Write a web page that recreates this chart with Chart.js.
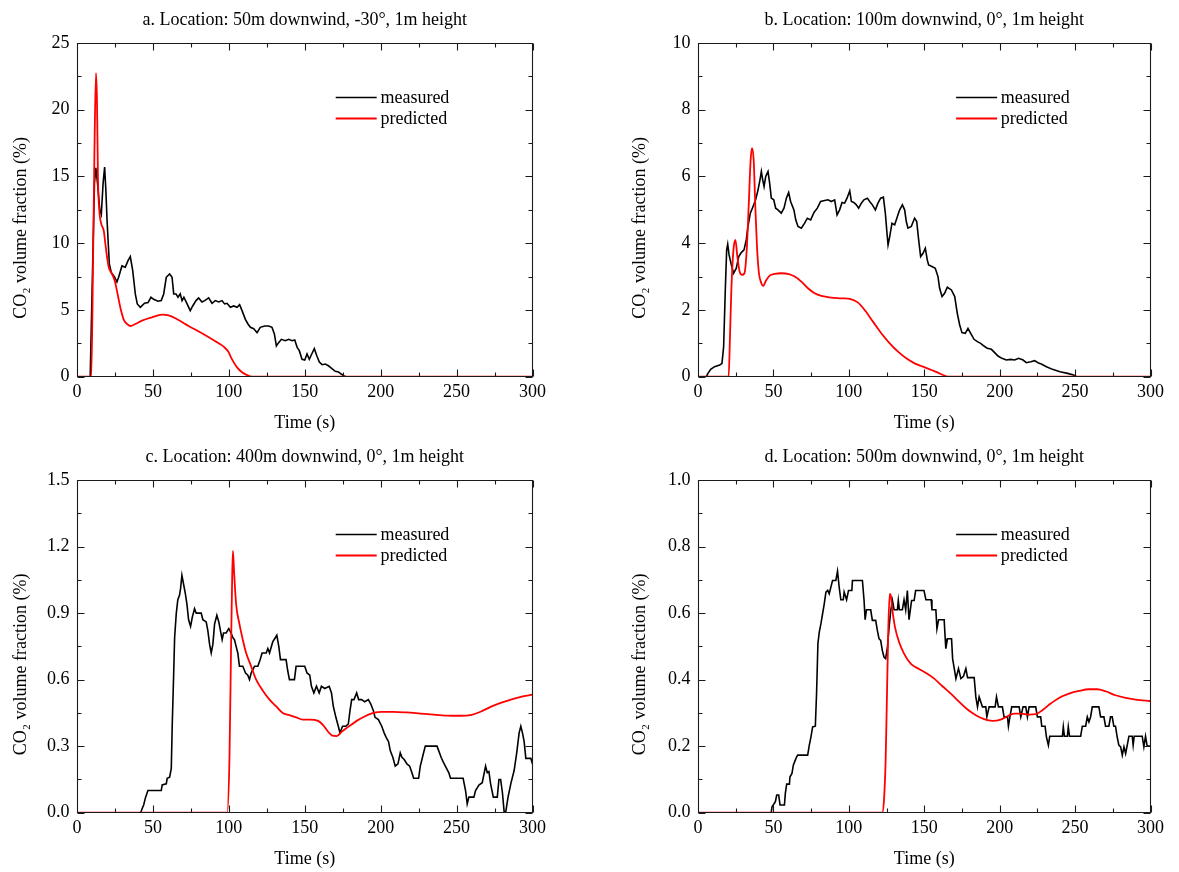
<!DOCTYPE html>
<html>
<head>
<meta charset="utf-8">
<script src="https://cdn.jsdelivr.net/npm/chart.js@4.4.1/dist/chart.umd.min.js"></script>
<style>
html,body{margin:0;padding:0;background:#fff;overflow:hidden;width:1179px;height:872px;}
canvas{position:absolute;}
</style>
</head>
<body>
<canvas id="cA" width="590" height="436" style="left:0px;top:0px;width:590px;height:436px"></canvas>
<canvas id="cB" width="560" height="436" style="left:619px;top:0px;width:560px;height:436px"></canvas>
<canvas id="cC" width="590" height="435" style="left:0px;top:437px;width:590px;height:435px"></canvas>
<canvas id="cD" width="560" height="435" style="left:619px;top:437px;width:560px;height:435px"></canvas>
<script>
// ---------------- data (time s, CO2 volume fraction %) ----------------
const titles = [
  'a. Location: 50m downwind, -30°, 1m height',
  'b. Location: 100m downwind, 0°, 1m height',
  'c. Location: 400m downwind, 0°, 1m height',
  'd. Location: 500m downwind, 0°, 1m height'
];
const seriesNames = ['measured', 'predicted'];
const xTitle = 'Time (s)';
const yTitle = 'CO₂ volume fraction (%)';
const xTicks = [0, 50, 100, 150, 200, 250, 300];
const yTicksA = [0, 5, 10, 15, 20, 25];
const yTicksB = [0, 2, 4, 6, 8, 10];
const yTicksC = [0, 0.3, 0.6, 0.9, 1.2, 1.5];
const yTicksD = [0, 0.2, 0.4, 0.6, 0.8, 1.0];
const yLabelsC = ['0.0', '0.3', '0.6', '0.9', '1.2', '1.5'];
const yLabelsD = ['0.0', '0.2', '0.4', '0.6', '0.8', '1.0'];

const measuredA = [[0,0],[8.7,0],[11.5,14.5],[12.4,15.65],[13.5,14.5],[15,12.5],[16,12.15],[17.2,14.5],[18.2,15.7],[19,14],[19.8,11.7],[21.3,8.45],[22.6,7.8],[24.8,7.45],[26.3,7.1],[27.4,7.45],[29.6,8.3],[31.8,8.2],[33.6,8.7],[35.1,9.0],[36.7,7.95],[38.4,6.2],[39.7,5.45],[41.7,5.2],[44.5,5.5],[46.8,5.55],[48.7,5.95],[50.5,5.8],[53.3,5.65],[55.5,5.7],[57.1,6.2],[58.8,7.45],[61,7.7],[62.6,7.45],[63.7,6.2],[65.2,6.2],[66.5,5.95],[68,6.2],[69.2,5.7],[70.4,5.95],[72.5,5.45],[74.6,4.95],[76.2,5.3],[78.4,5.7],[80.1,5.9],[82.3,5.6],[84.1,5.7],[86.7,5.9],[88.9,5.5],[91.1,5.7],[93.3,5.6],[95.5,5.7],[97.2,5.45],[98.8,5.5],[101,5.2],[103.2,5.3],[105.4,5.2],[107.1,5.4],[108.7,4.95],[110.9,4.3],[112.6,3.95],[114.2,3.7],[116.4,3.6],[118.6,3.3],[120.7,3.7],[123.6,3.8],[126.2,3.8],[128.4,3.7],[130,3.2],[131.3,2.3],[132.8,2.55],[134.6,2.8],[137.2,2.7],[139.4,2.8],[141.6,2.7],[143.4,2.75],[145,2.2],[146.4,1.95],[148.2,1.3],[150,1.25],[151.5,1.7],[153,1.3],[154.6,1.7],[156.3,2.1],[158,1.55],[159.6,1.1],[161.4,0.9],[163.6,0.95],[165.8,0.8],[167.5,0.65],[170.1,0.4],[172.3,0.35],[174,0.2],[176,0.05],[177,0],[300,0]];
const predictedA = [[0,0],[9.4,0],[10.5,8],[11.5,17],[12.5,22.75],[13.1,21],[13.4,18.7],[13.8,14.95],[14.7,12.45],[16,11.45],[17.6,10.95],[18.7,9.95],[19.8,8.95],[20.9,8.2],[23,7.7],[24.8,7.2],[26.3,6.45],[28.5,5.2],[30.7,4.3],[32.9,3.95],[35.1,3.8],[38.4,3.95],[42.8,4.2],[49.4,4.45],[56,4.65],[60.4,4.6],[65.9,4.3],[73.5,3.8],[82.3,3.25],[91.1,2.65],[96.6,2.25],[99.5,1.9],[102.1,1.3],[105.4,0.7],[108.7,0.33],[112,0.12],[115.3,0],[300,0]];

const measuredB = [[0,0],[5.5,0],[6.6,0.1],[8.4,0.22],[11,0.3],[14.4,0.35],[15.9,0.4],[17,0.9],[18.1,2.6],[19,3.8],[19.7,3.97],[20.6,3.65],[22.1,3.35],[23.6,3.1],[25.4,3.25],[27,3.6],[28.7,3.72],[30.5,3.8],[32,4.1],[33.1,4.5],[34.7,4.9],[36.5,5.1],[38.2,5.3],[39.8,5.6],[41.1,5.9],[42,6.15],[42.9,5.9],[43.8,5.7],[44.9,6.0],[46.4,6.15],[47.5,5.8],[48.6,5.35],[50.2,5.3],[51.5,5.05],[53,5.0],[55.2,4.9],[57,5.05],[58.6,5.35],[60.1,5.52],[61.4,5.25],[63.6,5.0],[64.8,4.7],[66.3,4.5],[68.5,4.45],[70.7,4.6],[72.5,4.75],[74.7,4.7],[76.9,4.92],[79.1,5.05],[81.3,5.25],[84,5.28],[86.2,5.3],[88.4,5.25],[90.6,5.3],[92.2,4.85],[93.9,5.0],[95.5,5.22],[97.2,5.2],[98.8,5.35],[100.6,5.57],[101.7,5.25],[103.3,5.22],[105,5.15],[106.5,5.05],[108.3,5.2],[110,5.3],[112.3,5.35],[113.8,5.25],[115.6,5.15],[117.6,5.0],[119.3,5.2],[121.1,5.35],[122.9,5.38],[124.2,4.9],[125.3,4.3],[126,3.95],[127.1,4.2],[128.6,4.6],[130.4,4.55],[132.2,4.8],[133.7,5.0],[135.5,5.15],[137,5.0],[138.1,4.65],[139.2,4.45],[141.4,4.5],[143.6,4.75],[145,4.65],[146.3,4.1],[147.6,3.6],[149.2,3.7],[150.7,3.85],[152,3.5],[152.9,3.35],[155.1,3.3],[157.3,3.25],[159.1,3.0],[160.2,2.65],[161.8,2.4],[163.5,2.5],[165.3,2.68],[168,2.6],[170.2,2.4],[171.9,1.9],[173.5,1.55],[175,1.32],[177.2,1.3],[179,1.45],[180.8,1.3],[183,1.12],[185.2,1.05],[187.4,1.0],[189.6,0.92],[191.8,0.85],[194.5,0.82],[196.7,0.72],[198.9,0.62],[201.5,0.55],[204.4,0.5],[207.3,0.52],[209.9,0.5],[212.6,0.55],[215.5,0.5],[217.7,0.42],[220.6,0.45],[223.2,0.48],[225.4,0.42],[227.6,0.38],[231,0.3],[235,0.22],[240,0.15],[245,0.1],[249,0.05],[251,0],[300,0]];
const predictedB = [[0,0],[20.3,0],[21.2,1.2],[22.1,2.6],[23.5,3.8],[24.8,4.1],[26.1,3.6],[27.6,3.15],[29.2,3.05],[30.8,3.1],[32.3,3.8],[33.6,5.1],[34.9,6.5],[35.8,6.85],[36.9,6.5],[38,5.1],[39.1,3.9],[40.4,3.1],[42,2.8],[43.1,2.72],[45.3,2.9],[47.5,3.03],[50.8,3.08],[55.2,3.1],[59.7,3.08],[64.1,3.0],[68.5,2.85],[72.9,2.65],[77.3,2.5],[81.8,2.42],[88.4,2.37],[95,2.35],[101.7,2.32],[106.1,2.22],[110.5,2.0],[116,1.65],[121.5,1.3],[127.1,1.0],[132.6,0.75],[138.1,0.55],[143.6,0.4],[149.2,0.3],[154.7,0.2],[159.1,0.12],[162.4,0.05],[165.7,0],[300,0]];

const measuredC = [[0,0],[41.9,0],[43,0.02],[43.9,0.035],[45.2,0.07],[46.7,0.1],[55.5,0.1],[56.1,0.125],[58.8,0.13],[59.4,0.155],[61,0.16],[62.1,0.2],[62.7,0.39],[63.6,0.61],[64.3,0.79],[65.4,0.9],[66.4,0.96],[67.5,0.98],[68.2,1.01],[69.1,1.07],[70.2,1.03],[71.3,0.99],[72.4,0.94],[73.5,0.87],[74.8,0.84],[75.9,0.88],[77.4,0.92],[78.5,0.9],[81.8,0.9],[82.9,0.87],[85.1,0.86],[86.2,0.82],[87.3,0.76],[88.4,0.72],[89.5,0.76],[90.6,0.85],[92.1,0.89],[93.4,0.86],[94.5,0.82],[95.6,0.78],[96.5,0.81],[98.2,0.81],[100,0.83],[101.5,0.81],[102.6,0.79],[103.7,0.78],[104.8,0.75],[105.9,0.72],[107,0.66],[109.2,0.66],[111,0.63],[112.5,0.62],[113.6,0.6],[114.7,0.63],[116.9,0.66],[119.1,0.66],[120.6,0.69],[121.9,0.72],[124.6,0.72],[125.7,0.74],[126.8,0.72],[128.9,0.77],[130.7,0.79],[131.6,0.8],[132.9,0.75],[134,0.69],[137.7,0.69],[138.8,0.64],[139.9,0.6],[143.2,0.6],[144.3,0.66],[150,0.66],[151.5,0.63],[153.3,0.62],[154.4,0.57],[156,0.54],[157.7,0.57],[159.5,0.54],[161,0.57],[163.2,0.56],[166.1,0.57],[167.6,0.54],[168.8,0.48],[170.5,0.43],[172.1,0.39],[173.2,0.36],[174.9,0.39],[177.1,0.39],[178.7,0.4],[179.8,0.46],[180.9,0.51],[182.4,0.51],[184.2,0.54],[185.5,0.51],[187.5,0.51],[189.5,0.5],[191.9,0.51],[193.5,0.49],[195.2,0.46],[196.3,0.43],[198.5,0.42],[200.7,0.39],[202.3,0.36],[203.6,0.34],[205.2,0.32],[206.3,0.28],[208,0.25],[209.6,0.21],[211.4,0.22],[212.9,0.27],[214,0.25],[215.5,0.24],[217.3,0.22],[219.1,0.21],[220.6,0.18],[221.7,0.155],[225,0.155],[226.1,0.21],[227.9,0.26],[229.4,0.3],[237.1,0.3],[238.2,0.28],[239.8,0.25],[241.1,0.23],[242.6,0.21],[244.9,0.18],[246,0.155],[254.3,0.155],[255.9,0.1],[257,0.04],[258.1,0.07],[261.4,0.07],[262.5,0.1],[264.7,0.125],[266.9,0.135],[269.1,0.21],[270.2,0.18],[271.3,0.185],[272.4,0.13],[274.2,0.07],[276.8,0.07],[277.9,0.15],[279,0.15],[280.2,0.09],[281.3,0.005],[282.4,0.005],[283.9,0.07],[285.7,0.13],[287.9,0.19],[289.6,0.27],[291.2,0.36],[292.3,0.39],[293.4,0.36],[294.5,0.32],[295.6,0.245],[298.9,0.245],[300,0.22]];
const predictedC = [[0,0],[98.9,0],[100.4,0.24],[101.5,0.76],[102.2,1.06],[102.7,1.18],[103.5,1.08],[104.8,0.94],[107,0.85],[109.2,0.78],[111.4,0.72],[114.7,0.66],[118,0.6],[122.4,0.55],[126.8,0.51],[131.1,0.48],[135.5,0.45],[139.9,0.44],[144.3,0.43],[148.7,0.42],[153.3,0.42],[158.8,0.414],[162.1,0.395],[165.4,0.365],[168.1,0.347],[171,0.345],[174.3,0.365],[178.7,0.387],[184.2,0.414],[189.7,0.435],[195.2,0.45],[200.7,0.455],[208.5,0.455],[217.3,0.452],[226.1,0.447],[234.9,0.442],[243.8,0.438],[252.6,0.437],[259.2,0.44],[265.8,0.455],[272.4,0.477],[279,0.495],[285.7,0.51],[292.3,0.522],[300,0.532]];

const measuredD = [[0,0],[48.5,0],[49.1,0.018],[51.3,0.033],[52.2,0.053],[53.5,0.053],[54.4,0.023],[57.3,0.023],[57.9,0.058],[58.8,0.086],[60.6,0.086],[61,0.108],[62.3,0.118],[63.2,0.143],[64.5,0.158],[65.4,0.168],[66.1,0.173],[72.7,0.173],[73.8,0.203],[74.9,0.228],[76,0.258],[77.8,0.26],[78.6,0.358],[79.5,0.508],[80.4,0.543],[81.5,0.568],[82.6,0.598],[83.7,0.628],[84.8,0.663],[86,0.668],[87,0.658],[88.1,0.678],[89.2,0.698],[91.4,0.698],[92.5,0.726],[93.6,0.678],[94.7,0.64],[96.3,0.64],[96.9,0.663],[98.5,0.64],[99.8,0.668],[102,0.668],[102.4,0.698],[109,0.698],[110.1,0.638],[110.8,0.58],[111.7,0.61],[114.5,0.61],[115.6,0.578],[117.8,0.578],[118.9,0.548],[120,0.523],[121.1,0.518],[122.2,0.488],[123.3,0.468],[124.4,0.463],[125.6,0.498],[126.7,0.558],[127.8,0.608],[128.9,0.638],[130,0.61],[132.2,0.61],[132.8,0.638],[133.5,0.61],[135.5,0.61],[136.6,0.64],[137.7,0.61],[138.8,0.668],[139.9,0.58],[141.6,0.638],[143.3,0.638],[144.3,0.668],[149.8,0.668],[151.1,0.64],[154.6,0.64],[155.1,0.61],[157.7,0.61],[158.4,0.553],[159.5,0.58],[163.2,0.58],[163.9,0.523],[164.3,0.493],[165.4,0.523],[168.1,0.523],[168.8,0.463],[169.9,0.433],[171,0.403],[172.7,0.433],[174.3,0.403],[176,0.41],[177.6,0.433],[178.7,0.406],[183.1,0.406],[184.2,0.348],[185.3,0.318],[186.4,0.348],[188.6,0.318],[190.8,0.318],[191.5,0.288],[193,0.318],[197,0.318],[197.9,0.348],[199.2,0.318],[201.8,0.318],[202.9,0.288],[205.2,0.288],[205.8,0.26],[206.8,0.288],[208,0.318],[212.9,0.318],[214,0.288],[215.5,0.318],[217.3,0.318],[218.4,0.288],[219.5,0.318],[223.9,0.318],[225,0.288],[227.2,0.288],[227.9,0.26],[230.1,0.26],[231,0.228],[232.3,0.203],[233.2,0.23],[241.6,0.23],[242.2,0.258],[242.9,0.23],[244.9,0.23],[245.5,0.258],[246.3,0.23],[253.7,0.23],[254.8,0.26],[257,0.26],[258.1,0.288],[259.2,0.273],[260.3,0.288],[261.4,0.318],[265.8,0.318],[266.9,0.288],[269.1,0.288],[270.2,0.26],[272.4,0.26],[273.5,0.288],[274.6,0.288],[275.7,0.26],[276.8,0.26],[277.9,0.228],[279,0.203],[280.2,0.198],[281.3,0.173],[282.4,0.198],[283.5,0.178],[284.6,0.203],[285.7,0.23],[287.9,0.23],[288.5,0.203],[289.2,0.23],[294.5,0.23],[295.6,0.198],[296.7,0.23],[297.8,0.2],[300,0.2]];
const predictedD = [[0,0],[122.2,0],[123.3,0.038],[124.4,0.158],[125.3,0.358],[126.2,0.558],[127.1,0.658],[127.8,0.653],[128.9,0.608],[130.6,0.558],[133.3,0.513],[136.6,0.478],[141,0.448],[146.5,0.432],[151.1,0.42],[156.6,0.403],[162.1,0.38],[167.6,0.358],[173.2,0.333],[178.7,0.31],[184.2,0.293],[189.7,0.281],[195.2,0.276],[200.7,0.28],[205.2,0.29],[209.6,0.298],[214,0.298],[219.5,0.295],[223.9,0.296],[228.3,0.308],[233.8,0.328],[239.3,0.345],[246,0.358],[252.6,0.366],[259.2,0.371],[264.7,0.371],[270.2,0.365],[276.8,0.353],[283.5,0.345],[290.1,0.34],[300,0.335]];

// ---------------- drawing ----------------
const FONT = '"Liberation Serif", "Times New Roman", Times, serif';
Chart.defaults.font.family = FONT;
Chart.defaults.font.size = 18;
Chart.defaults.color = '#000';

const X_AXIS_H = 59.3;

function toPoints(pairs) { return pairs.map(p => ({x: p[0], y: p[1]})); }

function frameTicksPlugin(xMinor, yMinor) {
  return {
    id: 'frameTicks',
    afterDatasetsDraw(chart) {
      const {ctx, chartArea: a, scales: {x, y}} = chart;
      const L = Math.round(a.left) + 0.5, R = Math.round(a.right) - 0.5;
      const T = Math.round(a.top) + 0.5, B = Math.round(a.bottom) - 0.5;
      ctx.save();
      ctx.strokeStyle = '#1a1a1a';
      ctx.lineWidth = 1.1;
      ctx.beginPath();
      const xMaj = x.ticks.map(t => t.value), yMaj = y.ticks.map(t => t.value);
      const n1 = Math.round((x.max - x.min) / xMinor);
      for (let i = 0; i <= n1; i++) {
        const v = x.min + i * xMinor;
        const len = xMaj.some(m => Math.abs(m - v) < 1e-6) ? 7 : 4;
        const px = Math.round(x.getPixelForValue(v)) + 0.5;
        ctx.moveTo(px, B); ctx.lineTo(px, B - len);
        ctx.moveTo(px, T); ctx.lineTo(px, T + len);
      }
      const n2 = Math.round((y.max - y.min) / yMinor);
      for (let i = 0; i <= n2; i++) {
        const v = y.min + i * yMinor;
        const len = yMaj.some(m => Math.abs(m - v) < 1e-6) ? 7 : 4;
        const py = Math.round(y.getPixelForValue(v)) + 0.5;
        ctx.moveTo(L, py); ctx.lineTo(L + len, py);
        ctx.moveTo(R, py); ctx.lineTo(R - len, py);
      }
      ctx.rect(L, T, R - L, B - T);
      ctx.stroke();
      ctx.restore();
    }
  };
}

function legendPlugin(dx, dy) {
  return {
    id: 'lineLegend',
    afterDatasetsDraw(chart) {
      const {ctx, chartArea: a} = chart;
      ctx.save();
      ctx.font = '18px ' + FONT;
      ctx.textBaseline = 'middle';
      ctx.textAlign = 'left';
      ctx.fillStyle = '#000';
      chart.data.datasets.forEach((ds, i) => {
        const yy = Math.round(a.top + dy + i * 21) + 0.5;
        const x0 = a.left + dx;
        ctx.strokeStyle = ds.borderColor;
        ctx.lineWidth = ds.borderWidth;
        ctx.beginPath();
        ctx.moveTo(x0, yy); ctx.lineTo(x0 + 41, yy);
        ctx.stroke();
        ctx.fillText(ds.label, x0 + 44.7, yy + 0.5);
      });
      ctx.restore();
    }
  };
}

function makeChart(id, o) {
  return new Chart(document.getElementById(id), {
    type: 'line',
    data: {
      datasets: [
        {label: seriesNames[0], data: toPoints(o.meas), borderColor: '#000000', borderWidth: 1.6,
         pointRadius: 0, tension: 0, fill: false, order: 2},
        {label: seriesNames[1], data: toPoints(o.pred), borderColor: '#ff0000', borderWidth: 1.8,
         pointRadius: 0, cubicInterpolationMode: 'monotone', fill: false, order: 1}
      ]
    },
    options: {
      responsive: false, animation: false, devicePixelRatio: 1,
      events: [],
      layout: {padding: {left: 0, top: 0, right: o.padR, bottom: 0}},
      plugins: {
        legend: {display: false},
        tooltip: {enabled: false},
        title: {display: true, text: o.title, fullSize: false, color: '#000',
                font: {size: 18, weight: 'normal'}, padding: {top: 9.2, bottom: 12.2}}
      },
      scales: {
        x: {
          type: 'linear', min: 0, max: 300,
          afterBuildTicks: s => { s.ticks = xTicks.map(v => ({value: v})); },
          ticks: {padding: 5.2, maxRotation: 0, autoSkip: false, color: '#000', font: {size: 18}},
          grid: {display: false, drawTicks: false},
          border: {display: false},
          title: {display: true, text: xTitle, color: '#000', font: {size: 18}, padding: {top: 0, bottom: 2.4}},
          afterFit: s => { s.height = X_AXIS_H; }
        },
        y: {
          type: 'linear', min: 0, max: o.yTicks[o.yTicks.length - 1],
          afterBuildTicks: s => { s.ticks = o.yTicks.map(v => ({value: v})); },
          ticks: {padding: 7.4, color: '#000', font: {size: 18},
                  callback: (v, i) => o.yLabels ? o.yLabels[i] : String(v)},
          grid: {display: false, drawTicks: false},
          border: {display: false},
          // two trailing em spaces move the visible label slightly toward the axis bottom, as in the reference
          title: {display: true, text: yTitle + '\u2003\u2003', color: '#000', font: {size: 18},
                  padding: {top: 10.5, bottom: 0}},
          afterFit: s => { s.width = o.yW; }
        }
      }
    },
    plugins: [frameTicksPlugin(25, o.yMinor), legendPlugin(o.legX, 53.7)]
  });
}

makeChart('cA', {title: titles[0], meas: measuredA, pred: predictedA, yTicks: yTicksA, yMinor: 2.5,
                 yW: 77, padR: 57.5, legX: 258.7});
makeChart('cB', {title: titles[1], meas: measuredB, pred: predictedB, yTicks: yTicksB, yMinor: 1,
                 yW: 79, padR: 28.5, legX: 258.1});
makeChart('cC', {title: titles[2], meas: measuredC, pred: predictedC, yTicks: yTicksC, yLabels: yLabelsC,
                 yMinor: 0.15, yW: 77, padR: 57.5, legX: 258.7});
makeChart('cD', {title: titles[3], meas: measuredD, pred: predictedD, yTicks: yTicksD, yLabels: yLabelsD,
                 yMinor: 0.1, yW: 79, padR: 28.5, legX: 258.1});
</script>
</body>
</html>
